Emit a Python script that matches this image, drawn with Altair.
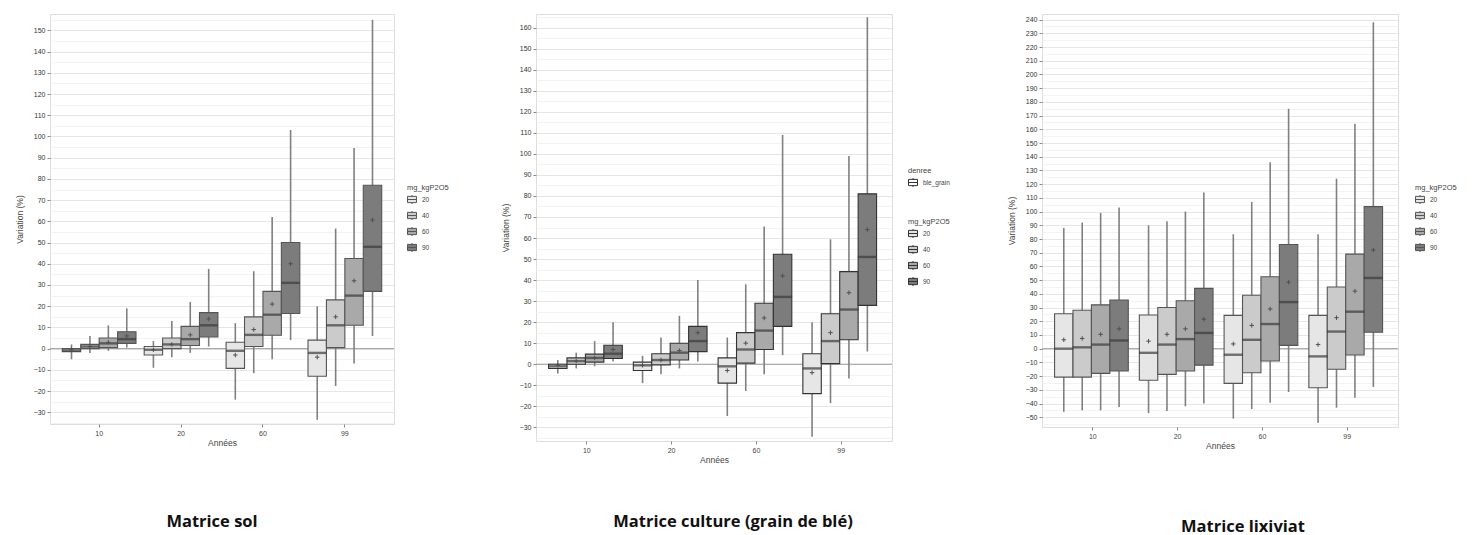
import altair as alt
import pandas as pd

annees = ["10", "20", "60", "99"]
doses = ["20", "40", "60", "90"]

# order: for each year, doses 20, 40, 60, 90
sol_low = [-5, -2, -1, 0.5,  -9, -4, -2, 1,  -24, -11.6, -5, 4,  -33.5, -17.6, -7, 6]
sol_q1 = [-1.4, 0, 0.5, 2.5,  -3, 0, 1.5, 5.5,  -9.3, 1, 6.3, 16.6,  -13, 0.5, 11, 27]
sol_med = [-0.8, 1, 2.5, 4.5,  -0.5, 2, 4.5, 11,  -1, 6.5, 16, 31,  -2, 11, 25, 48]
sol_q3 = [0, 2, 5, 8,  1, 5, 10.5, 17,  3, 15, 27, 50,  4, 23, 42.5, 77]
sol_high = [2, 6, 11, 19,  3.6, 13, 22, 37.6,  12, 36.5, 62, 103,  20, 56.6, 94.5, 155]
sol_mean = [-0.5, 1, 3, 6,  -0.5, 2, 6.5, 14,  -3, 9, 21, 40,  -4, 15, 32, 60.6]

cul_low = [-4.4, -2, -1, 1.3,  -9, -4.8, -2, 1.3,  -24.6, -12.7, -4.8, 4.3,  -34.5, -18.5, -6.8, 6]
cul_q1 = [-2, 0, 1, 2.7,  -3, -0.3, 2, 6,  -9, 0.5, 7, 18,  -14, 0.3, 11.6, 28]
cul_med = [-1, 1.5, 3, 5,  -0.5, 2, 5.5, 11,  -1, 7, 16, 32,  -2, 11, 26, 51]
cul_q3 = [0, 3, 4.8, 9,  1, 5, 10, 18,  3, 15, 29, 52.3,  5, 24, 44, 81]
cul_high = [2, 5.5, 11, 20,  4, 12.7, 23, 40,  12.7, 38, 65.5, 109,  20, 59.4, 99, 165]
cul_mean = [-0.5, 1.5, 3, 7,  -0.5, 2, 6.5, 15,  -3, 10, 22, 42,  -4, 15, 34, 64]

lix_low = [-46, -45, -45, -42.6,  -47, -45.5, -42, -40,  -51, -44, -39.4, -31.6,  -54, -43, -35.8, -28]
lix_q1 = [-20.7, -20.7, -18, -16.3,  -23, -18.7, -16.3, -12,  -25.3, -17.5, -9, 2.4,  -28.5, -15, -4.6, 12]
lix_med = [0, 1, 3, 6,  -3, 3, 7, 11.5,  -4.4, 6.5, 18, 34,  -5.6, 12.5, 27, 51.6]
lix_q3 = [25.5, 28, 32, 35.5,  24.6, 30, 35, 44,  24.3, 39, 52.5, 76,  24.3, 45, 69, 103.6]
lix_high = [88, 92, 99, 103,  90, 93, 100, 114,  83.5, 107, 136, 175,  83.5, 124, 164, 238]
lix_mean = [6.5, 7.5, 10.5, 14.5,  5.5, 10.5, 14.5, 21.5,  3.5, 17, 29, 48.5,  3, 22.6, 42, 72]

fills = ["#e6e6e6", "#cbcbcb", "#a9a9a9", "#7c7c7c"]
FONT = "Liberation Sans"
BOXSYM = "M-1,-0.7H1V0.7H-1Z M-1,0H1 M0,-1V-0.7 M0,0.7V1"


def make_df(low, q1, med, q3, high, mean):
    rows = []
    i = 0
    for a in annees:
        for d in doses:
            rows.append(dict(annee=a, mg=d, low=low[i], q1=q1[i], med=med[i],
                             q3=q3[i], high=high[i], mean=mean[i], denree="ble_grain"))
            i += 1
    return pd.DataFrame(rows)


def panel(df, width, height, ymin, ymax, title, dx, offset, legx, legy,
          box_stroke="#555555", denree_leg=None):
    step = width / 4.2
    boxw = 0.9 * step / 4
    xenc = alt.X("annee:N", sort=annees,
                 scale=alt.Scale(paddingInner=0, paddingOuter=0.1),
                 axis=alt.Axis(title="Années", labelAngle=0, labelFont=FONT, titleFont=FONT,
                               labelFontSize=7, titleFontSize=8.5, titleFontWeight="normal",
                               labelColor="#444", titleColor="#444", tickSize=3,
                               tickColor="#888", domain=False, gridColor="#ebebeb",
                               labelPadding=2, titlePadding=2))
    xoff = alt.XOffset("mg:N", sort=doses,
                       scale=alt.Scale(paddingInner=0, paddingOuter=0.2222))
    start = int(-(-ymin // 5)) * 5
    vals = list(range(start, int(ymax) + 1, 5))
    yscale = alt.Scale(domain=[ymin, ymax], nice=False, zero=False)
    yaxis = alt.Axis(title="Variation (%)", values=vals,
                     labelExpr="datum.value % 10 === 0 ? datum.label : ''",
                     labelFont=FONT, titleFont=FONT, labelFontSize=7, titleFontSize=8.5,
                     titleFontWeight="normal", labelColor="#333", titleColor="#444",
                     tickSize=3, tickColor="#888", domain=False, labelPadding=2,
                     titlePadding=9,
                     tickOpacity={"condition": {"test": "datum.value % 10 === 0", "value": 1}, "value": 0},
                     gridColor={"condition": {"test": "datum.value % 10 === 0", "value": "#e6e6e6"}, "value": "#f3f3f3"})
    base = alt.Chart(df)
    zero = alt.Chart(pd.DataFrame({"v": [0]})).mark_rule(color="#9a9a9a", strokeWidth=1).encode(
        y=alt.Y("v:Q", scale=yscale, axis=yaxis))
    whisk = base.mark_rule(color="#808080", strokeWidth=1.6).encode(
        x=xenc, xOffset=xoff, y=alt.Y("low:Q", scale=yscale, axis=yaxis), y2="high:Q")
    fill_leg = alt.Legend(title="mg_kgP2O5", orient="none", legendX=legx, legendY=legy,
                          symbolType=BOXSYM, symbolSize=80, symbolStrokeColor=box_stroke,
                          symbolStrokeWidth=1, labelFont=FONT, titleFont=FONT,
                          labelFontSize=6.5, titleFontSize=7.5, titleFontWeight="normal",
                          labelColor="#444", titleColor="#444", rowPadding=2, titlePadding=3,
                          labelOffset=5)
    box_enc = dict(x=xenc, xOffset=xoff, y=alt.Y("q1:Q", scale=yscale, axis=yaxis), y2="q3:Q",
                   fill=alt.Fill("mg:N", sort=doses,
                                 scale=alt.Scale(domain=doses, range=fills), legend=fill_leg))
    if denree_leg is not None:
        box_enc["stroke"] = alt.Stroke("denree:N", scale=alt.Scale(range=[box_stroke]),
                                       legend=alt.Legend(title="denree", orient="none",
                                                         legendX=denree_leg[0], legendY=denree_leg[1],
                                                         symbolType=BOXSYM, symbolSize=80,
                                                         symbolFillColor="white", symbolStrokeWidth=1,
                                                         labelFont=FONT, titleFont=FONT,
                                                         labelFontSize=6.5, titleFontSize=7.5,
                                                         titleFontWeight="normal", labelColor="#444",
                                                         titleColor="#444", titlePadding=3,
                                                         labelOffset=5))
        box = base.mark_bar(strokeWidth=1.1).encode(**box_enc)
    else:
        box = base.mark_bar(stroke=box_stroke, strokeWidth=1.1).encode(**box_enc)
    med = base.mark_tick(color="#3a3a3a", thickness=2.4, size=boxw).encode(
        x=xenc, xOffset=xoff, y=alt.Y("med:Q", scale=yscale, axis=yaxis))
    mean = base.mark_point(shape="M-1,0L1,0M0,-1L0,1", size=20, filled=False,
                           color="#505050", strokeWidth=1, opacity=1).encode(
        x=xenc, xOffset=xoff, y=alt.Y("mean:Q", scale=yscale, axis=yaxis))
    return alt.layer(zero, whisk, box, med, mean).properties(
        width=width, height=height,
        title=alt.TitleParams(title, orient="bottom", anchor="middle", frame="group",
                              font="Open Sans", fontSize=16.5, fontWeight="bold",
                              color="#111", dx=dx, offset=offset))


p1 = panel(make_df(sol_low, sol_q1, sol_med, sol_q3, sol_high, sol_mean),
           344, 410, -35.5, 157.7, "Matrice sol", -10, 67, 357, 170)
p2 = panel(make_df(cul_low, cul_q1, cul_med, cul_q3, cul_high, cul_mean),
           356, 427, -36.5, 166.5, "Matrice culture (grain de blé)", 19, 50, 372, 204,
           box_stroke="#333333", denree_leg=(372, 153))
p3 = panel(make_df(lix_low, lix_q1, lix_med, lix_q3, lix_high, lix_mean),
           356, 413, -57.1, 244.1, "Matrice lixiviat", 23, 69, 373, 170)

inner = alt.hconcat(p1, p2, spacing=50).resolve_scale(
    fill="independent", stroke="independent").resolve_legend(fill="independent", stroke="independent")
chart = alt.hconcat(inner, p3, spacing=55).resolve_scale(
    fill="independent", stroke="independent").resolve_legend(
    fill="independent", stroke="independent").properties(
    padding={"left": 14, "top": 13, "right": 0, "bottom": 0}
).configure_view(stroke="#b5b5b5", strokeWidth=1.5).configure(background="white")

chart.save("out.html", embed_options={"renderer": "svg", "actions": False})
